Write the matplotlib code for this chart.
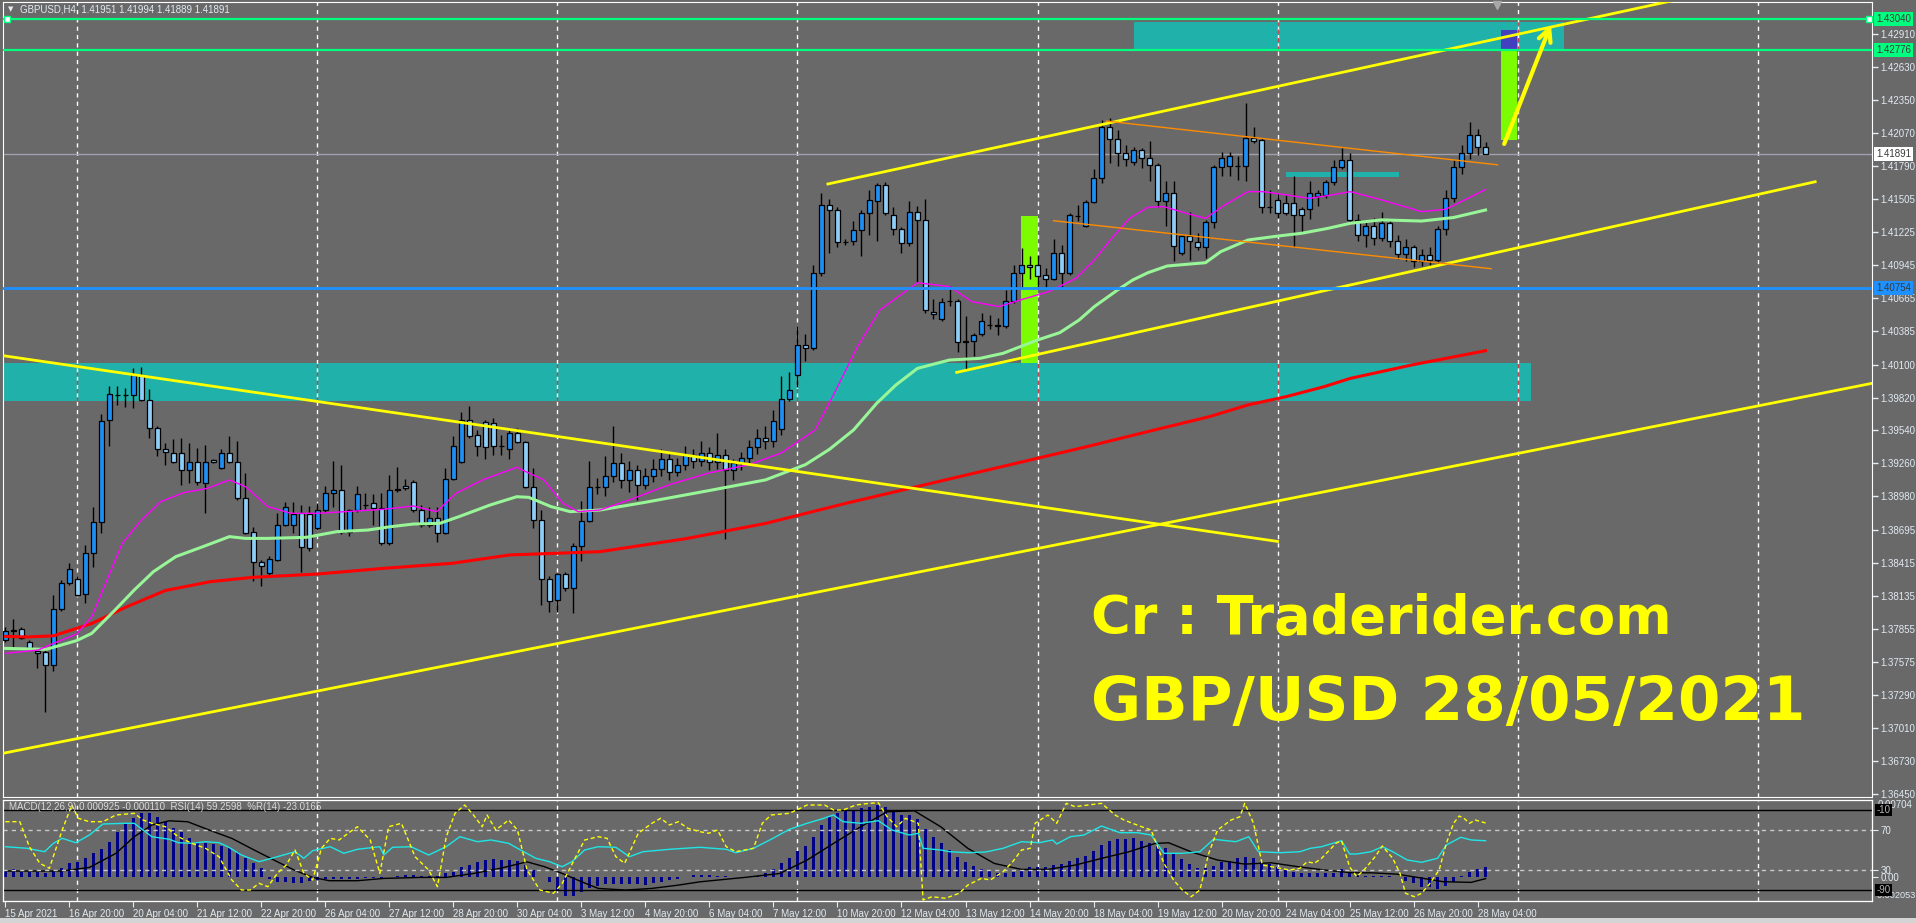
import matplotlib
matplotlib.use("Agg")
import matplotlib.pyplot as plt
from matplotlib.patches import Rectangle

W, H = 1916, 923
BG = "#696969"
FG = "#e2eaf2"
BULL = "#1e8ff5"
BEAR = "#8dcffa"
TEAL = "#20b2aa"
LIME = "#7cfc00"
YEL = "#ffff00"
plt.rcParams["font.family"] = ["Liberation Sans", "DejaVu Sans"]

# H4 bars, 15 Apr 2021 12:00 .. 28 May 2021 08:00 (bar index = x position)
opens = [
    1.3776, 1.3784, 1.3785, 1.3774, 1.3767, 1.3766, 1.3755, 1.3802, 1.3824, 1.3828,
    1.3815, 1.3850, 1.3876, 1.3963, 1.3984, 1.3984, 1.3984, 1.4001, 1.3980, 1.3956,
    1.3938, 1.3935, 1.3935, 1.3920, 1.3927, 1.3909, 1.3929, 1.3922, 1.3935, 1.3927,
    1.3897, 1.3868, 1.3842, 1.3833, 1.3844, 1.3874, 1.3874, 1.3884, 1.3883, 1.3871,
    1.3886, 1.3901, 1.3903, 1.3868, 1.3886, 1.3891, 1.3892, 1.3888, 1.3858, 1.3903,
    1.3907, 1.3910, 1.3886, 1.3874, 1.3880, 1.3867, 1.3913, 1.3927, 1.3963, 1.3950,
    1.3961, 1.3960, 1.3941, 1.3938, 1.3952, 1.3944, 1.3906, 1.3878, 1.3828, 1.3810,
    1.3832, 1.3820, 1.3856, 1.3877, 1.3906, 1.3906, 1.3915, 1.3926, 1.3912, 1.3920,
    1.3908, 1.3915, 1.3921, 1.3930, 1.3919, 1.3925, 1.3933, 1.3928, 1.3935, 1.3927,
    1.3933, 1.3920, 1.3926, 1.3931, 1.3940, 1.3948, 1.3945, 1.3955, 1.3981, 1.4001,
    1.4027, 1.4024, 1.4088, 1.4146, 1.4141, 1.4114, 1.4115, 1.4124, 1.4139, 1.4149,
    1.4163, 1.4137, 1.4125, 1.4113, 1.4140, 1.4133, 1.4055, 1.4049, 1.4064, 1.4064,
    1.4030, 1.4030, 1.4036, 1.4044, 1.4044, 1.4043, 1.4064, 1.4088, 1.4095, 1.4095,
    1.4086, 1.4083, 1.4105, 1.4088, 1.4136, 1.4128, 1.4148, 1.4169, 1.4212, 1.4202,
    1.4190, 1.4182, 1.4192, 1.4186, 1.4180, 1.4149, 1.4156, 1.4105, 1.4119, 1.4114,
    1.4110, 1.4131, 1.4178, 1.4179, 1.4179, 1.4179, 1.4203, 1.4201, 1.4144, 1.4150,
    1.4147, 1.4147, 1.4142, 1.4142, 1.4153, 1.4154, 1.4165, 1.4178, 1.4184, 1.4133,
    1.4120, 1.4128, 1.4118, 1.4130, 1.4115, 1.4104, 1.4110, 1.4098, 1.4103, 1.4099,
    1.4125, 1.4152, 1.4178, 1.4190, 1.4205, 1.41951]
highs = [
    1.3787, 1.3794, 1.3787, 1.3776, 1.3768, 1.3768, 1.3814, 1.3827, 1.3841, 1.3830,
    1.3857, 1.3889, 1.3968, 1.3992, 1.3992, 1.3990, 1.4007, 1.4008, 1.3989, 1.3958,
    1.3943, 1.3947, 1.3948, 1.3943, 1.3939, 1.3942, 1.3930, 1.3938, 1.3949, 1.3945,
    1.3918, 1.3872, 1.3844, 1.3847, 1.3884, 1.3893, 1.3893, 1.3891, 1.3890, 1.3892,
    1.3907, 1.3928, 1.3925, 1.3887, 1.3907, 1.3901, 1.3900, 1.3901, 1.3916, 1.3923,
    1.3913, 1.3912, 1.3891, 1.3889, 1.3889, 1.3922, 1.3949, 1.3970, 1.3975, 1.3954,
    1.3963, 1.3965, 1.3950, 1.3954, 1.3956, 1.3945, 1.3922, 1.3886, 1.3830, 1.3833,
    1.3834, 1.3858, 1.3894, 1.3928, 1.3914, 1.3932, 1.3958, 1.3935, 1.3928, 1.3925,
    1.3922, 1.3930, 1.3938, 1.3934, 1.3931, 1.3941, 1.3938, 1.3945, 1.3940, 1.3952,
    1.3938, 1.3930, 1.3936, 1.3946, 1.3955, 1.3958, 1.3971, 1.4000, 1.4004, 1.4043,
    1.4036, 1.4095, 1.4156, 1.4151, 1.4144, 1.4117, 1.4132, 1.4141, 1.4158, 1.4164,
    1.4165, 1.4144, 1.4127, 1.4149, 1.4145, 1.4151, 1.4066, 1.4067, 1.4077, 1.4066,
    1.4051, 1.4037, 1.4054, 1.4052, 1.4050, 1.4073, 1.4095, 1.4109, 1.4102, 1.4103,
    1.4092, 1.4117, 1.4112, 1.4139, 1.4146, 1.4150, 1.4176, 1.4218, 1.4220, 1.4209,
    1.4197, 1.4195, 1.4194, 1.4200, 1.4181, 1.4166, 1.4166, 1.4120, 1.4140, 1.4122,
    1.4133, 1.4180, 1.4191, 1.4191, 1.4187, 1.4232, 1.4212, 1.4203, 1.4158, 1.4156,
    1.4154, 1.4170, 1.4144, 1.4166, 1.4158, 1.4167, 1.4184, 1.4194, 1.4190, 1.4138,
    1.4132, 1.4135, 1.4140, 1.4134, 1.4120, 1.4117, 1.4112, 1.4108, 1.4110, 1.4128,
    1.4158, 1.4184, 1.4197, 1.4216, 1.4210, 1.41994]
lows = [
    1.3774, 1.3770, 1.3777, 1.3768, 1.3752, 1.3715, 1.3750, 1.3801, 1.3823, 1.3813,
    1.3807, 1.3838, 1.3867, 1.3941, 1.3976, 1.3974, 1.3973, 1.3979, 1.3948, 1.3932,
    1.3925, 1.3926, 1.3908, 1.3909, 1.3908, 1.3884, 1.3926, 1.3921, 1.3926, 1.3895,
    1.3866, 1.3826, 1.3822, 1.3831, 1.3843, 1.3873, 1.3867, 1.3834, 1.3852, 1.3869,
    1.3885, 1.3889, 1.3866, 1.3864, 1.3885, 1.3887, 1.3874, 1.3857, 1.3857, 1.3902,
    1.3903, 1.3885, 1.3872, 1.3872, 1.3859, 1.3866, 1.3912, 1.3926, 1.3948, 1.3932,
    1.3930, 1.3933, 1.3933, 1.3930, 1.3943, 1.3905, 1.3871, 1.3806, 1.3800, 1.3800,
    1.3818, 1.3799, 1.3843, 1.3876, 1.3900, 1.3898, 1.3910, 1.3905, 1.3902, 1.3895,
    1.3904, 1.3910, 1.3915, 1.3912, 1.3915, 1.3920, 1.3922, 1.3924, 1.3920, 1.3921,
    1.3862, 1.3912, 1.3920, 1.3926, 1.3934, 1.3938, 1.3940, 1.3950, 1.3979, 1.3991,
    1.4013, 1.4022, 1.4085, 1.4105, 1.4110, 1.4112, 1.4112, 1.4102, 1.4120, 1.4115,
    1.4137, 1.4120, 1.4105, 1.4111, 1.4080, 1.4054, 1.4049, 1.4047, 1.4060, 1.4021,
    1.4006, 1.4017, 1.4034, 1.4040, 1.4035, 1.4041, 1.4062, 1.4076, 1.4083, 1.4076,
    1.4076, 1.4082, 1.4075, 1.4086, 1.4132, 1.4127, 1.4147, 1.4164, 1.4181, 1.4179,
    1.4179, 1.4180, 1.4177, 1.4166, 1.4144, 1.4128, 1.4098, 1.4103, 1.4099, 1.4107,
    1.4101, 1.4126, 1.4170, 1.4170, 1.4167, 1.4166, 1.4198, 1.4139, 1.4139, 1.4135,
    1.4137, 1.4110, 1.4123, 1.4134, 1.4145, 1.4152, 1.4163, 1.4176, 1.4130, 1.4115,
    1.4110, 1.4112, 1.4115, 1.4110, 1.4100, 1.4098, 1.4093, 1.4094, 1.4095, 1.4096,
    1.4120, 1.4148, 1.4172, 1.4185, 1.4188, 1.41889]
closes = [
    1.3784, 1.3784, 1.3778, 1.3769, 1.3765, 1.3755, 1.3802, 1.3824, 1.3836, 1.3814,
    1.3850, 1.3876, 1.3962, 1.3985, 1.3984, 1.3984, 1.4001, 1.3980, 1.3956, 1.3938,
    1.3936, 1.3927, 1.3920, 1.3927, 1.3910, 1.3927, 1.3927, 1.3935, 1.3927, 1.3897,
    1.3867, 1.3842, 1.3839, 1.3845, 1.3874, 1.3889, 1.3883, 1.3855, 1.3854, 1.3886,
    1.3901, 1.3903, 1.3868, 1.3886, 1.3900, 1.3891, 1.3888, 1.3858, 1.3903, 1.3904,
    1.3905, 1.3886, 1.3874, 1.3880, 1.3867, 1.3913, 1.3941, 1.3963, 1.3949, 1.3941,
    1.3940, 1.3941, 1.3941, 1.3952, 1.3944, 1.3906, 1.3878, 1.3828, 1.3809, 1.3832,
    1.3820, 1.3856, 1.3877, 1.3906, 1.3906, 1.3915, 1.3926, 1.3912, 1.3920, 1.3908,
    1.3915, 1.3921, 1.3930, 1.3919, 1.3925, 1.3933, 1.3928, 1.3935, 1.3927, 1.3933,
    1.3920, 1.3926, 1.3931, 1.3940, 1.3948, 1.3945, 1.3962, 1.3981, 1.3988, 1.4027,
    1.4024, 1.4088, 1.4146, 1.4141, 1.4114, 1.4114, 1.4124, 1.4139, 1.4150, 1.4163,
    1.4139, 1.4125, 1.4113, 1.4140, 1.4133, 1.4056, 1.4053, 1.4063, 1.4064, 1.4029,
    1.4029, 1.4035, 1.4047, 1.4044, 1.4043, 1.4064, 1.4088, 1.4095, 1.4093, 1.4085,
    1.4083, 1.4105, 1.4088, 1.4137, 1.4136, 1.4148, 1.4169, 1.4212, 1.4202, 1.4190,
    1.4185, 1.4192, 1.4186, 1.4180, 1.4149, 1.4156, 1.4111, 1.4119, 1.4115, 1.4110,
    1.4131, 1.4178, 1.4186, 1.4187, 1.4179, 1.4203, 1.4200, 1.4144, 1.4144, 1.4139,
    1.4139, 1.4137, 1.4137, 1.4156, 1.4156, 1.4165, 1.4178, 1.4184, 1.4133, 1.4120,
    1.4128, 1.4118, 1.4130, 1.4115, 1.4104, 1.4110, 1.4098, 1.4103, 1.4099, 1.4125,
    1.4152, 1.4178, 1.4190, 1.4205, 1.4195, 1.41891]

# moving averages (bar index, price)
red_x = [0, 2.7, 6, 10.8, 15.1, 20, 25.6, 30.9, 39, 47.2, 55.8, 63, 74.3, 85, 95, 105, 115,
         125, 135, 143.6, 150.5, 155.3, 160.1, 164.8, 168.1, 176, 185]
red_y = [1.37790, 1.37785, 1.37795, 1.37900, 1.38040, 1.38180, 1.38255, 1.38292, 1.38320,
         1.38368, 1.38411, 1.38482, 1.38510, 1.3862, 1.3875, 1.3892, 1.3908, 1.3924, 1.3940,
         1.39544, 1.39658, 1.39757, 1.39828, 1.39912, 1.39983, 1.4010, 1.40218]
mag_x = [0, 4.1, 6, 8.9, 10.8, 12.7, 14.6, 17, 19.4, 22.3, 25.2, 28, 30, 32.8, 35.7, 39,
         42.4, 47.2, 51, 53.9, 56.3, 59.6, 63.9, 67.3, 69.7, 71.6, 74.3, 78, 83, 88, 93, 97,
         101.2, 103.6, 106.5, 109.3, 111.3, 114, 118, 120.8, 124.2, 126.6, 130.4, 133.8,
         136.1, 138.1, 140.5, 142.8, 144.8, 147.6, 150, 152.4, 155.3, 157.2, 160.1, 163,
         165.8, 168.1, 172, 177, 180, 183, 185]
mag_y = [1.37646, 1.37674, 1.37731, 1.37810, 1.37958, 1.38269, 1.38581, 1.38779, 1.38935,
         1.39012, 1.39048, 1.39119, 1.39063, 1.38893, 1.38836, 1.38836, 1.38850, 1.38870,
         1.38898, 1.38850, 1.39006, 1.39119, 1.39227, 1.39119, 1.38921, 1.38850, 1.38864,
         1.3895, 1.3908, 1.3918, 1.3925, 1.3935, 1.39544, 1.39856, 1.40253, 1.40564,
         1.40663, 1.40796, 1.40763, 1.40635, 1.40593, 1.40644, 1.40720, 1.40833, 1.40989,
         1.41159, 1.41343, 1.41437, 1.41442, 1.41386, 1.41343, 1.41457, 1.41570, 1.41570,
         1.41542, 1.41513, 1.41542, 1.41570, 1.4150, 1.4140, 1.4142, 1.4152, 1.41589]
grn_x = [0, 5.1, 8.9, 10.8, 13.7, 16.1, 18.5, 21.3, 24.7, 28, 30, 32.8, 37.6, 41.4, 45.3,
         48.1, 51, 54.3, 56.7, 60.6, 63.9, 65.4, 68.2, 70.6, 74.3, 80, 88, 95, 100, 103,
         106, 108.9, 111.3, 114, 118, 121.8, 124.7, 129, 131.8, 134.2, 136.1, 139, 140.9,
         142.8, 145.2, 148.1, 150, 151.9, 155.3, 159.1, 162, 165.3, 168.1, 172, 177, 181, 185]
grn_y = [1.37688, 1.37680, 1.37754, 1.37816, 1.38014, 1.38184, 1.38340, 1.38468, 1.38553,
         1.38638, 1.38623, 1.38623, 1.38632, 1.38680, 1.38694, 1.38722, 1.38745, 1.38751,
         1.38808, 1.38907, 1.38977, 1.38972, 1.38893, 1.38850, 1.38864, 1.3893, 1.3903,
         1.3912, 1.3925, 1.3938, 1.39544, 1.39771, 1.39927, 1.40068, 1.40139, 1.40153,
         1.40196, 1.40309, 1.40372, 1.40479, 1.40593, 1.40734, 1.40819, 1.40881, 1.40938,
         1.40955, 1.40966, 1.41060, 1.41159, 1.41193, 1.41216, 1.41258, 1.41301, 1.4133,
         1.4132, 1.4135, 1.41414]

# MACD(12,26,9) main values, one per bar
macd = [
    0.00067, 0.00073, 0.00052, 0.00052, 0.00052, 0.00036, 0.00061, 0.00082, 0.00133, 0.00142,
    0.00173, 0.00218, 0.00255, 0.00324, 0.00415, 0.00491, 0.00536, 0.00582, 0.00582, 0.00552,
    0.00506, 0.00446, 0.00415, 0.00355, 0.00324, 0.00309, 0.00303, 0.00285, 0.00264, 0.00233,
    0.00173, 0.00127, 0.00082, -0.00018, -0.00039, -0.00039, -0.00055, -0.00048, -0.00030, -0.00024,
    -0.00018, -0.00018, -0.00018, -0.00012, -0.00012, -0.00009, -0.00009, -0.00006, 0.0, 0.00012,
    0.00018, 0.00021, 0.00012, 0.00012, 0.00012, 0.00036, 0.00052, 0.00091, 0.00112, 0.00142,
    0.00158, 0.00164, 0.00158, 0.00158, 0.00152, 0.00112, 0.00067, 0.0, -0.00039, -0.00115,
    -0.00170, -0.00170, -0.00130, -0.00100, -0.00079, -0.00064, -0.00061, -0.00058, -0.00061, -0.00061,
    -0.00070, -0.00055, -0.00039, -0.00024, -0.00015, 0.0, 0.00018, 0.00021, 0.00021, 0.00012,
    0.00012, 0.00006, 0.0, 0.00006, 0.00012, 0.00036, 0.00073, 0.00127, 0.00173, 0.00239,
    0.00285, 0.00364, 0.00476, 0.00552, 0.00582, 0.00606, 0.00606, 0.00627, 0.00643, 0.00658,
    0.00637, 0.00597, 0.00567, 0.00567, 0.00527, 0.00436, 0.00370, 0.00315, 0.00249, 0.00188,
    0.00142, 0.00103, 0.00073, 0.00061, 0.00042, 0.00042, 0.00052, 0.00067, 0.00091, 0.00091,
    0.00097, 0.00112, 0.00121, 0.00152, 0.00173, 0.00194, 0.00239, 0.00294, 0.00333, 0.00346,
    0.00346, 0.00355, 0.00333, 0.00315, 0.00294, 0.00264, 0.00218, 0.00164, 0.00121, 0.00082,
    0.00082, 0.00103, 0.00142, 0.00152, 0.00173, 0.00182, 0.00173, 0.00142, 0.00121, 0.00091,
    0.00067, 0.00052, 0.00042, 0.00042, 0.00042, 0.00036, 0.00036, 0.00073, 0.00036, 0.00021,
    0.00012, 0.00012, 0.00012, 0.00012, 0.0, -0.00030, -0.00048, -0.00085, -0.00091, -0.00103,
    -0.00079, -0.00039, 0.00012, 0.00052, 0.00073, 0.000925]
sig_x = [0, 7.1, 10.5, 13.8, 16.1, 18.3, 20.5, 22.8, 25.5, 28.3, 31.1, 34, 36.1, 38.4, 40.5,
         44, 47.3, 51.8, 55.1, 58.5, 61.8, 65.2, 67.4, 69.6, 72, 74.1, 77.5, 80.8, 84.1, 86.8,
         92.4, 96.8, 100.2, 103.5, 106.9, 110.2, 113.6, 116.9, 120.3, 123.6, 127, 130.3, 133.7,
         137, 140.4, 143.7, 145.4, 148.2, 151.5, 154.9, 158.2, 161.6, 164.9, 168.3, 170.7,
         173.9, 176.5, 179.7, 183.2, 185]
sig_y = [0.00058, 0.00058, 0.00091, 0.00218, 0.00370, 0.00476, 0.00515, 0.00506, 0.00430,
         0.00355, 0.00249, 0.00142, 0.00067, 0.0, -0.00030, -0.00030, -0.00009, 0.0, 0.0,
         0.00036, 0.00082, 0.00142, 0.00097, 0.00036, -0.00039, -0.00100, -0.00115, -0.00100,
         -0.00070, -0.00040, 0.0, 0.00036, 0.00158, 0.00309, 0.00461, 0.00597, 0.00606,
         0.00461, 0.00264, 0.00127, 0.00073, 0.00073, 0.00112, 0.00173, 0.00233, 0.00309,
         0.00315, 0.00233, 0.00158, 0.00121, 0.00133, 0.00097, 0.00067, 0.00042, 0.00042,
         0.00030, 0.0, -0.00039, -0.00045, -0.00011]
rsi_x = [0, 2.7, 4.9, 6, 7.1, 8.8, 10.5, 12.2, 15, 16.1, 17.2, 18.3, 20.5, 21.6, 23.3, 25,
         26.7, 27.8, 29.5, 31.7, 34, 36.2, 37.3, 38.4, 40.6, 42.3, 44, 46.8, 47.3, 48.4, 50.7,
         52.9, 55.1, 56.8, 59, 60.7, 62.9, 64, 66.3, 68, 69.6, 70.8, 72.4, 74.1, 76.3, 78,
         79.7, 83, 86.8, 90.1, 91.3, 93.5, 95.7, 98, 100.2, 101.9, 103.5, 104.7, 106.9, 109.1,
         110.8, 113, 114.1, 114.7, 116.9, 118, 120.3, 122.5, 124.7, 127, 129.2, 130.9, 131.4,
         133.1, 134.8, 137, 139.3, 141.5, 143.2, 144.8, 147.1, 149.3, 151, 153.8, 155.4, 156.6,
         159.3, 161.8, 163.1, 164.5, 167, 168, 168.9, 170.7, 172.1, 173.4, 175.2, 177, 179,
         180.1, 181.9, 183.2, 185]
rsi_y = [53.3, 51.7, 48.3, 56.7, 61.7, 57.3, 65, 76, 76.7, 76.7, 70, 63.3, 60.7, 57.3, 56.7,
         58.3, 57.3, 53.3, 45, 38.3, 43.3, 48.3, 41.7, 49.3, 53.3, 46.7, 50.7, 53.3, 45, 52.7,
         53.3, 45, 53.3, 63.3, 58.3, 60, 56.7, 51.7, 41.7, 38.3, 33.3, 38.3, 50, 53.3, 52.7,
         43.3, 48.3, 50.7, 52.7, 50.7, 47.3, 51.7, 60.7, 70.7, 76.7, 80.7, 85, 78.3, 76.7, 79.3,
         70, 65, 66.7, 51.7, 50, 48.3, 47.3, 48, 51.7, 58.3, 57.3, 60, 56, 63.3, 65, 74, 67.3,
         67.3, 65, 46.7, 46.7, 48.3, 60.7, 58.3, 63.3, 48.3, 47.3, 48.3, 51.7, 53.3, 59.3, 46,
         46, 48.3, 53.3, 48.3, 40, 37.7, 41.7, 55, 62.7, 60, 59.26]
wpr_x = [0, 1.8, 3, 4.3, 5.5, 7.1, 8.3, 9.1, 10.5, 12.2, 13.8, 16.1, 17.2, 18.3, 20, 21.6,
         23.3, 25, 26.7, 28.3, 29.5, 30.6, 31.7, 32.8, 34, 35.1, 36.2, 37.3, 38.4, 39.5, 40.6,
         41.7, 43.4, 44, 45.6, 46.8, 47.9, 49.5, 51.2, 52.9, 54, 55.1, 56.2, 57.4, 58.5, 59.6,
         60.2, 61.3, 62.9, 64, 65.2, 66.8, 68.5, 69.6, 71.3, 72.4, 74.1, 75.2, 76.3, 77.4,
         79.1, 80.8, 81.9, 83, 84.1, 85.3, 86.8, 87.9, 89, 90.1, 91.3, 93.5, 94.6, 95.7, 98,
         100.2, 102.4, 103.5, 104.7, 106.3, 108, 109.1, 110.2, 111.4, 112.5, 114.1, 114.7,
         115.8, 117.5, 119.2, 120.3, 122, 123.1, 124.7, 125.9, 127, 128.1, 128.7, 130.3, 131.4,
         132.6, 133.7, 135.4, 137, 138.7, 139.8, 140.9, 142, 143.2, 144.8, 146, 147.1, 148.2,
         149.3, 150.4, 151.5, 153.2, 154.3, 154.9, 156, 157.1, 158.2, 160.5, 161.8, 162.7,
         163.6, 164.5, 166.3, 167, 168, 168.9, 169.8, 171.2, 172.1, 173.4, 174.3, 175, 176.1,
         177, 177.9, 179.2, 180.1, 181, 181.7, 182.3, 183, 183.7, 185]
wpr_y = [-21.7, -21.7, -46.7, -63.3, -68.3, -30, -5, -18.3, -21.7, -21.7, -15, -13.3, -20,
         -23.3, -26.7, -36.7, -43.3, -48.3, -56.7, -80, -90, -90, -83.3, -86.7, -73.3, -65, -50,
         -73.3, -80, -48.3, -38.3, -40, -30, -26.7, -40, -73.3, -26.7, -23.3, -56.7, -70, -86.7,
         -36.7, -13.3, -5, -15, -26.7, -15, -30, -20, -30, -70, -90, -93.3, -83.3, -56.7, -40,
         -36.7, -38.3, -56.7, -63.3, -33.3, -23.3, -18.3, -25, -21.7, -28.3, -31.7, -33.3, -30,
         -46.7, -51.7, -48.3, -23.3, -15, -13.3, -5, -5, -10, -10, -5, -3.3, -2.7, -16.7, -26.7,
         -18.3, -23.3, -100, -96.7, -98.3, -93.3, -85, -78.3, -80, -71.7, -61.7, -50, -48.3,
         -23.3, -15, -23.3, -3.3, -6.7, -5, -3.3, -15, -20, -23.3, -26.7, -30, -63.3, -80, -90,
         -96.7, -90, -53.3, -30, -20, -16.7, -3.3, -23.3, -65, -66.7, -70, -68.3, -61.7, -63.3,
         -58.3, -43.3, -40.7, -66.7, -76.7, -70, -56.7, -46, -58.3, -73.3, -93.3, -96.7, -93.3,
         -85, -70, -43.3, -23.3, -16, -18.3, -23.3, -20, -23.0]

price_ticks = [1.42910, 1.42630, 1.42350, 1.42070, 1.41790, 1.41505, 1.41225, 1.40945,
               1.40665, 1.40385, 1.40100, 1.39820, 1.39540, 1.39260, 1.38980, 1.38695,
               1.38415, 1.38135, 1.37855, 1.37575, 1.37290, 1.37010, 1.36730, 1.36450]
time_ticks = [0, 8, 16, 24, 32, 40, 48, 56, 64, 72, 80, 88, 96, 104, 112, 120, 128, 136,
              144, 152, 160, 168, 176, 184]
time_labels = ["15 Apr 2021", "16 Apr 20:00", "20 Apr 04:00", "21 Apr 12:00", "22 Apr 20:00",
               "26 Apr 04:00", "27 Apr 12:00", "28 Apr 20:00", "30 Apr 04:00", "3 May 12:00",
               "4 May 20:00", "6 May 04:00", "7 May 12:00", "10 May 20:00", "12 May 04:00",
               "13 May 12:00", "14 May 20:00", "18 May 04:00", "19 May 12:00", "20 May 20:00",
               "24 May 04:00", "25 May 12:00", "26 May 20:00", "28 May 04:00"]
week_starts = [9, 39, 69, 99, 129, 159, 189, 219]

# chart objects: (bar from, bar to, price low, price high)
teal_zones = [(-0.2, 190.7, 1.39791, 1.40111), (141.0, 194.8, 1.42776, 1.43010),
              (160.0, 174.2, 1.41697, 1.41734)]
lime_bars = [(126.9, 129.0, 1.40113, 1.41363), (186.9, 188.9, 1.42005, 1.42940)]
# trend lines: (bar0, price0, bar1, price1)
yellow_lines = [(-1.0, 1.40183, 159.0, 1.38597), (-1.0, 1.36787, 240.0, 1.40031),
                (102.8, 1.41635, 215.0, 1.43291), (118.9, 1.40034, 226.2, 1.41654)]
orange_lines = [(137.6, 1.42170, 186.5, 1.41798), (131.0, 1.41323, 185.7, 1.40915)]


def box(x0, y0, x1, y1):
    return [x0 / W, 1 - y1 / H, (x1 - x0) / W, (y1 - y0) / H]


fig = plt.figure(figsize=(W / 100, H / 100), dpi=100, facecolor=BG)

# ---------------- price panel ----------------
ax = fig.add_axes(box(3, 1.5, 1872, 797))
ax.set_facecolor(BG)
ax.set_xlim(-0.3, 233.3)
ax.set_ylim(1.36425, 1.43186)
for s in ax.spines.values():
    s.set_color("white")
ax.set_xticks([])
ax.yaxis.tick_right()
ax.set_yticks(price_ticks)
ax.set_yticklabels([f"{p:.5f}" for p in price_ticks])
ax.tick_params(axis="y", colors=FG, labelsize=7, length=4, width=1, pad=2)

for x0, x1, y0, y1 in teal_zones:
    ax.add_patch(Rectangle((x0, y0), x1 - x0, y1 - y0, fc=TEAL, ec="none", zorder=1))
for x0, x1, y0, y1 in lime_bars:
    ax.add_patch(Rectangle((x0, y0), x1 - x0, y1 - y0, fc=LIME, ec="none", zorder=1.2))
# overlap of the lime bar and the top zone shows as blue
lx0, lx1, _, ly1 = lime_bars[1]
tz = teal_zones[1]
ax.add_patch(Rectangle((lx0, tz[2]), lx1 - lx0, min(ly1, tz[3]) - tz[2], fc="#4340c0",
                       ec="none", zorder=1.3))

for wk in week_starts:
    ax.axvline(wk, color="white", lw=1, ls=(0, (3, 3)), zorder=1.5)
    for x0, x1, y0, y1 in teal_zones:
        if x0 < wk < x1:
            ax.vlines(wk, y0, y1, color="#c9434e", lw=1, ls=(0, (3, 3)), zorder=1.6)

ax.axhline(1.41891, color="#a0a0ae", lw=1, zorder=2)

idx = list(range(len(closes)))
ax.vlines(idx, lows, highs, color="black", lw=1, zorder=3)
body_col = [BULL if c > o else BEAR if c < o else "black" for o, c in zip(opens, closes)]
ax.bar(idx, [max(abs(c - o), 1e-6) for o, c in zip(opens, closes)],
       bottom=[min(o, c) for o, c in zip(opens, closes)], width=0.62,
       color=body_col, edgecolor="black", linewidth=0.9, zorder=4)

ax.plot(red_x, red_y, color="#ff0000", lw=2.2, zorder=5)
ax.plot(grn_x, grn_y, color="#98f598", lw=2.2, zorder=5)
ax.plot(mag_x, mag_y, color="#ff00ff", lw=1, zorder=5)

for x0, y0, x1, y1 in yellow_lines:
    ax.plot([x0, x1], [y0, y1], color=YEL, lw=2, zorder=6)
for x0, y0, x1, y1 in orange_lines:
    ax.plot([x0, x1], [y0, y1], color="#ff8c00", lw=1, zorder=6)
ax.annotate("", xy=(193.3, 1.43012), xytext=(187.2, 1.41953),
            arrowprops=dict(arrowstyle="->,head_length=0.9,head_width=0.45", color=YEL, lw=3),
            zorder=7)

ax.axhline(1.43040, color="#00ff7f", lw=1.6, zorder=6)
ax.axhline(1.42776, color="#00ff7f", lw=1.6, zorder=6)
ax.axhline(1.40754, color="#1e90ff", lw=2, zorder=6)
ax.plot([0.2, 232.95], [1.43040, 1.43040], ls="none", marker="s", ms=4, mfc="white",
        mec="#00ff7f", mew=1, zorder=7, clip_on=False)
ax.plot([186.4], [1.4316], marker="v", ms=6, color="#a8a8a8", zorder=7, clip_on=False)

for y, txt, fc in [(1.43040, "1.43040", "#00ff7f"), (1.42776, "1.42776", "#00ff7f"),
                   (1.41891, "1.41891", "white"), (1.40754, "1.40754", "#1e90ff")]:
    ax.text(1.0022, y, txt, transform=ax.get_yaxis_transform(), ha="left", va="center",
            fontsize=7, color="#3a3a3a", clip_on=False, zorder=10,
            bbox=dict(boxstyle="square,pad=0.22", fc=fc, ec="none"))

fig.text(1091 / W, 1 - 619 / H, "Cr : Traderider.com", color=YEL, fontsize=39,
         family="DejaVu Sans", weight="bold", ha="left", va="center")
fig.text(1091 / W, 1 - 704 / H, "GBP/USD 28/05/2021", color=YEL, fontsize=44,
         family="DejaVu Sans", weight="bold", ha="left", va="center")

fig.text(11 / W, 1 - 9.5 / H, "\u25bc", color=FG, fontsize=5, family="DejaVu Sans",
         ha="center", va="center")
fig.text(20 / W, 1 - 9.5 / H, "GBPUSD,H4  1.41951 1.41994 1.41889 1.41891", color=FG,
         fontsize=7, ha="left", va="center")

# ---------------- indicator panel ----------------
axm = fig.add_axes(box(3, 799.5, 1872, 901))
axm.set_facecolor(BG)
axm.set_xlim(-0.3, 233.3)
axm.set_ylim(-0.002144, 0.0070855)
axr = axm.twinx()
axr.set_ylim(-1, 100.5)
axw = axm.twinx()
axw.set_ylim(-101, 0.5)
for a in (axm, axr, axw):
    for s in a.spines.values():
        s.set_color("white")
    a.tick_params(axis="y", colors=FG, labelsize=7, length=4, pad=2)

for wk in week_starts:
    axm.axvline(wk, color="white", lw=1, ls=(0, (3, 3)), zorder=1)
axm.bar(idx, macd, width=0.45, color="#000088", zorder=2)
axm.plot(sig_x, sig_y, color="black", lw=1, zorder=3)
axm.yaxis.tick_right()
axm.set_yticks([0.0])
axm.set_yticklabels(["0.00"])
axm.set_xticks(time_ticks)
axm.set_xticklabels(time_labels, ha="left")
axm.tick_params(axis="x", colors=FG, labelsize=7, length=4, pad=1.5)
axm.text(1.0032, 0.00704, "0.00704", transform=axm.get_yaxis_transform(), ha="left",
         va="top", fontsize=7, color=FG, clip_on=False)
axm.text(1.0012, -0.002053, "-0.002053", transform=axm.get_yaxis_transform(), ha="left",
         va="bottom", fontsize=6.6, color=FG, clip_on=False)

axr.axhline(70, color="#c8c8c8", lw=1, ls=(0, (3, 3)))
axr.axhline(30, color="#c8c8c8", lw=1, ls=(0, (3, 3)))
axr.plot(rsi_x, rsi_y, color="#1ee6e6", lw=1)
axr.set_yticks([70, 30])
axr.set_yticklabels(["70", "30"])

axw.axhline(-10, color="black", lw=1)
axw.axhline(-90, color="black", lw=1)
axw.plot(wpr_x, wpr_y, color=YEL, lw=1, ls=(0, (3, 2)))
axw.set_yticks([])
for lv in (-10, -90):
    axw.text(1.0022, lv, str(lv), transform=axw.get_yaxis_transform(), ha="left",
             va="center", fontsize=7, color="#b8b8b8", clip_on=False, zorder=10,
             bbox=dict(boxstyle="square,pad=0.15", fc="black", ec="none"))

fig.text(9 / W, 1 - 806.5 / H,
         "MACD(12,26,9) 0.000925 -0.000110  RSI(14) 59.2598  %R(14) -23.0165",
         color="#d8d8d8", fontsize=7, ha="left", va="center")

fig.add_artist(Rectangle((0, 0), 1, 5 / H, transform=fig.transFigure, fc="#d4d4d4",
                         ec="none"))

fig.savefig("out.png", dpi=100, facecolor=BG)
